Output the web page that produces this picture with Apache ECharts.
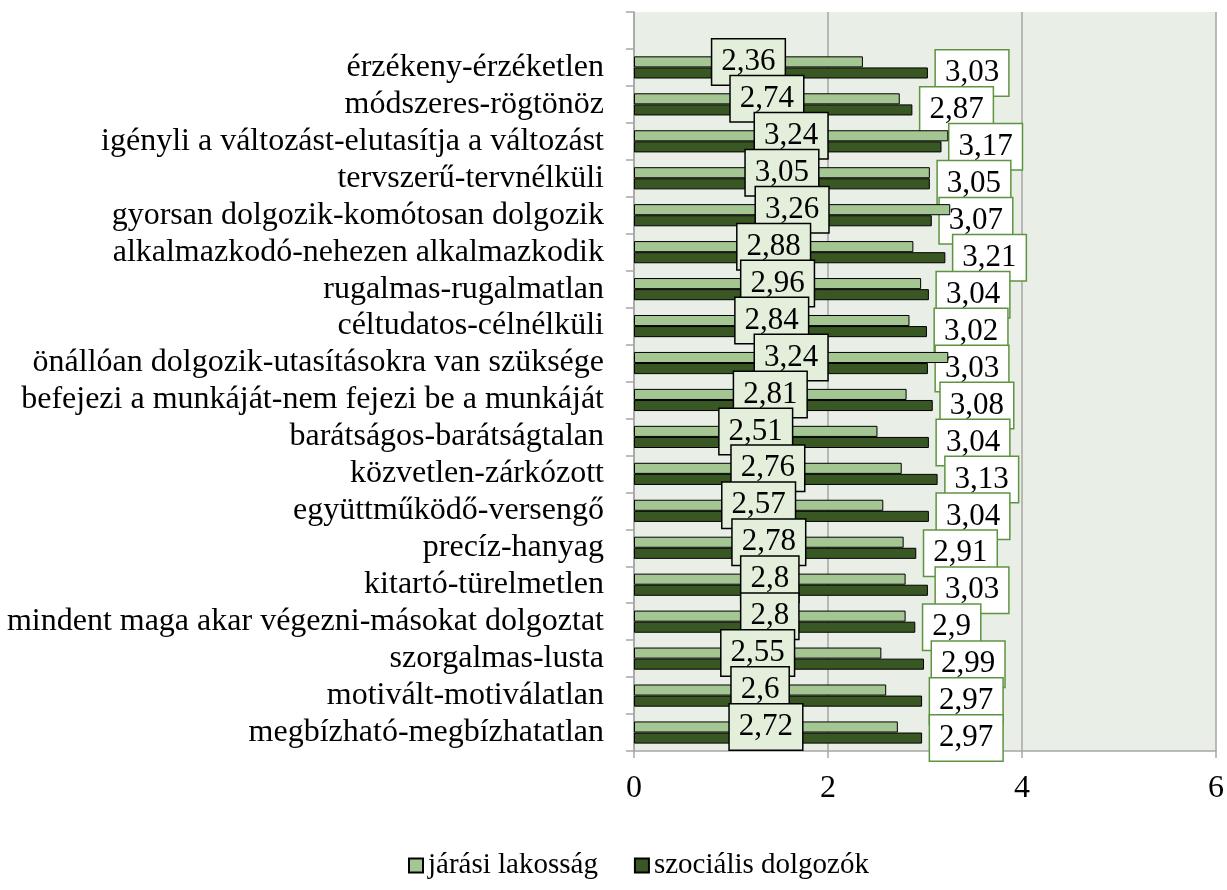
<!DOCTYPE html>
<html>
<head>
<meta charset="utf-8">
<script src="https://cdn.jsdelivr.net/npm/echarts@6/dist/echarts.min.js"></script>
<style>
html,body{margin:0;padding:0;background:#fff;}
#chart{width:1227px;height:890px;}
</style>
</head>
<body>
<div id="chart"></div>
<script>
const categories = [
  'érzékeny-érzéketlen',
  'módszeres-rögtönöz',
  'igényli a változást-elutasítja a változást',
  'tervszerű-tervnélküli',
  'gyorsan dolgozik-komótosan dolgozik',
  'alkalmazkodó-nehezen alkalmazkodik',
  'rugalmas-rugalmatlan',
  'céltudatos-célnélküli',
  'önállóan dolgozik-utasításokra van szüksége',
  'befejezi a munkáját-nem fejezi be a munkáját',
  'barátságos-barátságtalan',
  'közvetlen-zárkózott',
  'együttműködő-versengő',
  'precíz-hanyag',
  'kitartó-türelmetlen',
  'mindent maga akar végezni-másokat dolgoztat',
  'szorgalmas-lusta',
  'motivált-motiválatlan',
  'megbízható-megbízhatatlan'
];
const jarasiLakossag = [2.36, 2.74, 3.24, 3.05, 3.26, 2.88, 2.96, 2.84, 3.24, 2.81, 2.51, 2.76, 2.57, 2.78, 2.8, 2.8, 2.55, 2.6, 2.72];
const szocialisDolgozok = [3.03, 2.87, 3.17, 3.05, 3.07, 3.21, 3.04, 3.02, 3.03, 3.08, 3.04, 3.13, 3.04, 2.91, 3.03, 2.9, 2.99, 2.97, 2.97];
const seriesNames = ['járási lakosság', 'szociális dolgozók'];
const xTicks = [0, 2, 4, 6];

const FONT = '"Liberation Serif", "Times New Roman", serif';
const fmt = p => String(p.value).replace('.', ',');

const chart = echarts.init(document.getElementById('chart'), null, {renderer: 'canvas'});
const yData = [''].concat(categories);
chart.setOption({
  animation: false,
  textStyle: {fontFamily: FONT},
  grid: {left: 634, right: 8, top: 12, bottom: 139, containLabel: false,
         show: true, backgroundColor: '#e9eee6', borderWidth: 0},
  legend: {
    top: 846, left: 403,
    itemWidth: 14, itemHeight: 14, itemGap: 36,
    icon: 'rect',
    textStyle: {fontFamily: FONT, fontSize: 29, color: '#000'},
    data: seriesNames
  },
  xAxis: {
    type: 'value', min: xTicks[0], max: xTicks[xTicks.length - 1], interval: 2,
    axisLine: {show: true, lineStyle: {color: '#a6a6a6', width: 1.5}},
    axisTick: {show: true, length: 7, lineStyle: {color: '#a6a6a6', width: 1.5}},
    splitLine: {show: true, lineStyle: {color: '#a6a6a6', width: 1.5}},
    axisLabel: {fontFamily: FONT, fontSize: 32, color: '#000', margin: 22}
  },
  yAxis: {
    type: 'category', inverse: true, data: yData,
    axisLine: {show: true, lineStyle: {color: '#a6a6a6', width: 1.5}},
    axisTick: {show: true, length: 8, alignWithLabel: false, interval: 0, lineStyle: {color: '#a6a6a6', width: 1.5}},
    axisLabel: {fontFamily: FONT, fontSize: 32, color: '#000', margin: 30, interval: 0}
  },
  series: [
    {
      name: seriesNames[0], type: 'bar',
      data: ['-'].concat(jarasiLakossag),
      barGap: '0%', barCategoryGap: '40%',
      itemStyle: {color: '#a3c693', borderColor: '#000', borderWidth: 1},
      label: {
        show: true, position: 'inside', formatter: fmt,
        fontFamily: FONT, fontSize: 31, color: '#000',
        backgroundColor: '#e3efdb', borderColor: '#000', borderWidth: 1.5,
        padding: [6, 9, 5, 9], lineHeight: 34
      },
      z: 3
    },
    {
      name: seriesNames[1], type: 'bar',
      data: ['-'].concat(szocialisDolgozok),
      itemStyle: {color: '#385723', borderColor: '#000', borderWidth: 1},
      label: {
        show: true, position: 'right', distance: 8, formatter: fmt,
        fontFamily: FONT, fontSize: 31, color: '#000',
        backgroundColor: '#ffffff', borderColor: '#5e9440', borderWidth: 1.5,
        padding: [6, 9, 5, 9], lineHeight: 34
      },
      z: 2
    }
  ]
});
</script>
</body>
</html>
